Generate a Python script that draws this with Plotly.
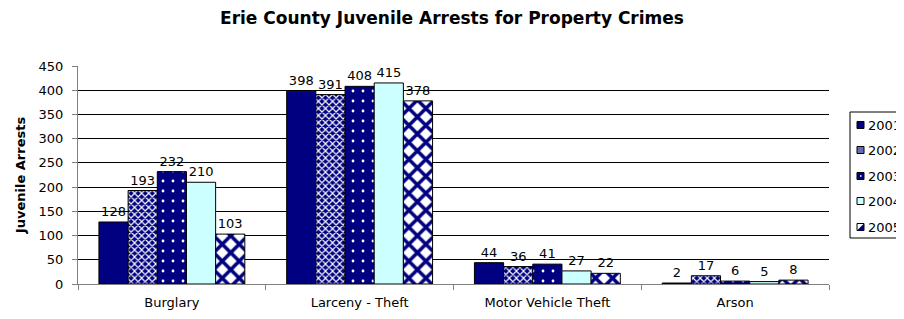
import plotly.graph_objects as go

categories = ["Burglary", "Larceny - Theft", "Motor Vehicle Theft", "Arson"]
years = ["2001", "2002", "2003", "2004", "2005"]
v2001 = [128, 398, 44, 2]
v2002 = [193, 391, 36, 17]
v2003 = [232, 408, 41, 6]
v2004 = [210, 415, 27, 5]
v2005 = [103, 378, 22, 8]
series = [v2001, v2002, v2003, v2004, v2005]

NAVY = "#000080"
CYAN = "#CCFFFF"
FONT = "DejaVu Sans, Verdana, Arial"
styles = [
    dict(color=NAVY, pattern=dict(shape="")),
    dict(color=NAVY, pattern=dict(shape="x", fgcolor="#ffffff", bgcolor=NAVY, fgopacity=1, size=5, solidity=0.42, fillmode="overlay")),
    dict(color=NAVY, pattern=dict(shape=".", fgcolor="#ffffff", bgcolor=NAVY, fgopacity=1, size=10, solidity=0.06, fillmode="overlay")),
    dict(color=CYAN, pattern=dict(shape="")),
    dict(color="#ffffff", pattern=dict(shape="x", fgcolor=NAVY, bgcolor="#ffffff", fgopacity=1, size=12, solidity=0.5, fillmode="overlay")),
]

# figure geometry (page has an 8px body margin)
W, H = 896, 311
L, R, T, B = 70, 75, 58, 35
PW, PH = W - L - R, H - T - B
OFF = 8

def px(xp):
    return (xp - OFF - L) / PW

def py(yp):
    return 1 - (yp - OFF - T) / PH

fig = go.Figure()
for yr, vals, st in zip(years, series, styles):
    fig.add_trace(go.Bar(
        x=categories, y=vals, name=yr,
        text=[str(v) for v in vals], textposition="outside",
        textfont=dict(family=FONT, size=13, color="black"),
        cliponaxis=False,
        marker=dict(color=st["color"], pattern=st["pattern"], line=dict(color="black", width=1)),
        showlegend=False,
    ))

# legend (drawn manually to match the compact reference legend)
shapes = [dict(type="rect", xref="paper", yref="paper",
               x0=px(850), x1=px(930), y0=py(238), y1=py(112),
               line=dict(color="black", width=1), fillcolor="white", layer="above")]
annotations = []
row_y = [125, 150, 176, 201, 227]
sw_fill = [NAVY, "#6a6ab4", NAVY, CYAN, "#ffffff"]
for yr, yc, fc in zip(years, row_y, sw_fill):
    shapes.append(dict(type="rect", xref="paper", yref="paper",
                       x0=px(857), x1=px(864), y0=py(yc + 3.5), y1=py(yc - 3.5),
                       line=dict(color="black", width=1), fillcolor=fc, layer="above"))
    annotations.append(dict(text=yr, xref="paper", yref="paper", x=px(867), y=py(yc),
                            xanchor="left", yanchor="middle", showarrow=False, borderpad=0,
                            font=dict(family=FONT, size=13, color="black")))
# small marks inside swatches for dotted / diamond series
shapes.append(dict(type="rect", xref="paper", yref="paper",
                   x0=px(860), x1=px(861.5), y0=py(176 + 0.75), y1=py(176 - 0.75),
                   line=dict(width=0), fillcolor="white", layer="above"))
shapes.append(dict(type="path", xref="paper", yref="paper",
                   path=f"M {px(857)},{py(227 + 3.5)} L {px(864)},{py(227 - 3.5)} L {px(864)},{py(227 + 3.5)} Z",
                   line=dict(width=0), fillcolor=NAVY, layer="above"))

fig.update_layout(
    width=W, height=H,
    paper_bgcolor="white", plot_bgcolor="white",
    margin=dict(l=L, r=R, t=T, b=B, autoexpand=False),
    barmode="group", bargap=0.223, bargroupgap=0,
    font=dict(family=FONT, size=13, color="black"),
    title=dict(text="<b>Erie County Juvenile Arrests for Property Crimes</b>",
               x=(452 - OFF) / W, xanchor="center", y=1 - (18 - OFF) / H, yanchor="middle",
               font=dict(family=FONT, size=17, color="black")),
    shapes=shapes, annotations=annotations,
    showlegend=False,
)
fig.update_yaxes(range=[0, 450], dtick=50, showgrid=True, gridcolor="black", gridwidth=1,
                 showline=True, linecolor="#808080", ticks="outside", ticklen=5, tickcolor="#808080",
                 ticklabelstandoff=6,
                 title=dict(text="<b>Juvenile Arrests</b>", font=dict(family=FONT, size=13), standoff=10),
                 tickfont=dict(family=FONT, size=13), zeroline=False)
fig.update_xaxes(showline=True, linecolor="#808080", ticks="outside", tickson="boundaries",
                 ticklen=5, tickcolor="#808080", ticklabelstandoff=6,
                 tickfont=dict(family=FONT, size=13))

fig.write_html("out.html")
